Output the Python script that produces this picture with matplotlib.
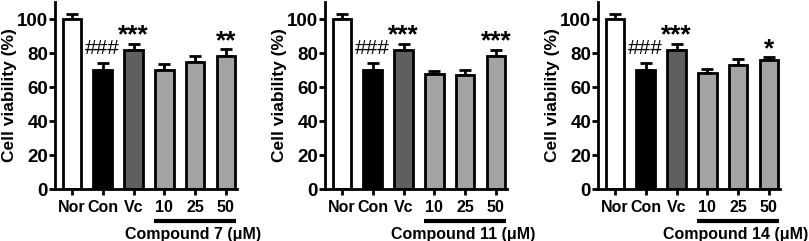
import matplotlib
matplotlib.use("Agg")
import matplotlib.pyplot as plt
import matplotlib.transforms as mtrans

plt.rcParams['font.family'] = ['Liberation Sans', 'DejaVu Sans']
plt.rcParams['font.weight'] = 'bold'

groups = ['Nor', 'Con', 'Vc', '10', '25', '50']
compounds = ['Compound 7 (\u03bcM)', 'Compound 11 (\u03bcM)', 'Compound 14 (\u03bcM)']
means = [
    [100, 70, 82, 70, 74.5, 78.5],
    [100, 70, 82, 67.5, 67, 78.5],
    [100, 70, 82, 68, 73, 76],
]
errs = [
    [3, 4, 3.5, 3.5, 3.5, 4],
    [3, 4, 3.5, 2, 3, 3.5],
    [3, 4, 3.5, 2.5, 3.5, 1.5],
]
stars = [
    ['', '###', '***', '', '', '**'],
    ['', '###', '***', '', '', '***'],
    ['', '###', '***', '', '', '*'],
]
colors = ['white', 'black', '#5f5f5f', '#a3a3a5', '#a3a3a5', '#a3a3a5']

W, H = 809, 241
fig = plt.figure(figsize=(W / 100, H / 100), dpi=100)

offsets = [0, 270, 543]
for k in range(3):
    x0 = 55 + offsets[k]
    ax = fig.add_axes([x0 / W, (H - 189) / H, 182 / W, 187 / H])
    pos = list(range(len(groups)))
    ax.bar(pos, means[k], width=0.6, color=colors, edgecolor='black', linewidth=2, zorder=2)
    ax.errorbar(pos, means[k], yerr=[[0] * 6, errs[k]], fmt='none', ecolor='black',
                elinewidth=2, capsize=4.5, capthick=2, zorder=1)
    ax.set_xlim(-0.55, 5.36)
    ax.set_ylim(0, 110)
    ax.set_yticks([0, 20, 40, 60, 80, 100])
    ax.set_xticks(pos)
    ax.set_xticklabels(groups)
    ax.spines['top'].set_visible(False)
    ax.spines['right'].set_visible(False)
    for s in ['left', 'bottom']:
        ax.spines[s].set_linewidth(2)
    ax.tick_params(axis='y', length=4, width=2, labelsize=13.5, pad=1)
    ax.tick_params(axis='x', length=4, width=2, labelsize=11.5, pad=4)
    ax.set_ylabel('Cell viability (%)', fontsize=12.5, fontweight='bold', labelpad=0)
    for i in range(6):
        s = stars[k][i]
        if not s:
            continue
        top = means[k][i] + errs[k][i]
        if s.startswith('#'):
            ax.text(i, top + 3, s, ha='center', va='bottom', fontsize=15,
                    fontweight='normal')
        else:
            ax.text(i, top + 0.5, s, ha='center', va='baseline', fontsize=19,
                    fontweight='bold')
    tr = mtrans.blended_transform_factory(ax.transData, ax.transAxes)
    ax.plot([2.66, 5.33], [-0.17, -0.17], color='black', lw=3, transform=tr,
            clip_on=False, solid_capstyle='butt')
    ax.text(3.93, -0.245, compounds[k], transform=tr, ha='center', va='center',
            fontsize=11.5, fontweight='bold')

fig.savefig('out.png', dpi=100)
